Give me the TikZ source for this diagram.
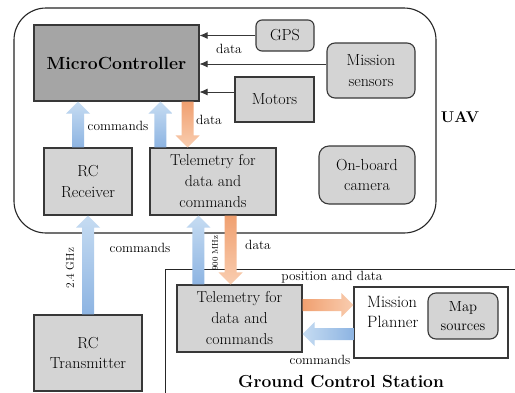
\documentclass[tikz,border=0pt]{standalone}
\usetikzlibrary{calc,arrows.meta}

\definecolor{boxgray}{HTML}{D4D4D4}
\definecolor{mcgray}{HTML}{A5A5A5}
\definecolor{edge}{HTML}{383838}
\definecolor{bluetail}{HTML}{8DB4E2}
\definecolor{bluetip}{HTML}{C6DCF2}
\definecolor{orangetail}{HTML}{F0A070}
\definecolor{orangetip}{HTML}{F9CDB0}

\tikzset{
  box/.style={draw=edge, line width=1.1pt, fill=boxgray, inner sep=2pt, align=center,
              text=black, font=\fontsize{16}{20.5}\selectfont},
  roundbox/.style={box, rounded corners=7pt},
  frame/.style={draw=black!85, line width=1.1pt, inner sep=0pt},
  lbl/.style={font=\fontsize{13.4}{16}\selectfont, inner sep=0pt},
  dataline/.style={draw=edge, line width=0.8pt, -{Latex[length=8pt,width=7pt]}},
}

% block arrows: #1 start, #2 end, #3 tail colour, #4 tip colour
\newcommand{\arrowup}[4]{%
  \shade[bottom color=#3, top color=#4] let \p1=#1, \p2=#2 in
    (\x1-6pt,\y1) -- (\x1-6pt,\y2-12pt) -- (\x1-12pt,\y2-12pt) -- (\x1,\y2)
    -- (\x1+12pt,\y2-12pt) -- (\x1+6pt,\y2-12pt) -- (\x1+6pt,\y1) -- cycle;}
\newcommand{\arrowdown}[4]{%
  \shade[top color=#3, bottom color=#4] let \p1=#1, \p2=#2 in
    (\x1-6pt,\y1) -- (\x1-6pt,\y2+12pt) -- (\x1-12pt,\y2+12pt) -- (\x1,\y2)
    -- (\x1+12pt,\y2+12pt) -- (\x1+6pt,\y2+12pt) -- (\x1+6pt,\y1) -- cycle;}
\newcommand{\arrowright}[4]{%
  \shade[left color=#3, right color=#4] let \p1=#1, \p2=#2 in
    (\x1,\y1+6pt) -- (\x2-12pt,\y1+6pt) -- (\x2-12pt,\y1+12pt) -- (\x2,\y1)
    -- (\x2-12pt,\y1-12pt) -- (\x2-12pt,\y1-6pt) -- (\x1,\y1-6pt) -- cycle;}
\newcommand{\arrowleft}[4]{%
  \shade[right color=#3, left color=#4] let \p1=#1, \p2=#2 in
    (\x1,\y1+6pt) -- (\x2+12pt,\y1+6pt) -- (\x2+12pt,\y1+12pt) -- (\x2,\y1)
    -- (\x2+12pt,\y1-12pt) -- (\x2+12pt,\y1-6pt) -- (\x1,\y1-6pt) -- cycle;}

\begin{document}
\begin{tikzpicture}[x=1pt,y=-1pt]
\useasboundingbox (0,0) rectangle (515,392);
\fill[white] (0,0) rectangle (515,392);
\clip (0,0) rectangle (515,392);

% containers
\node[frame, rounded corners=32pt, minimum width=422pt, minimum height=225pt] (uav) at (225,120.5) {};
\node[frame, line width=0.9pt, minimum width=365pt, minimum height=140pt] (gcs) at (347.5,339) {};

% UAV blocks
\node[box, fill=mcgray, minimum width=165pt, minimum height=76pt,
      font=\bfseries\fontsize{17.6}{22}\selectfont] (mc) at (116.5,63) {MicroController};
\node[roundbox, rounded corners=6pt, minimum width=58pt, minimum height=31pt] (gps) at (285,35.5) {GPS};
\node[roundbox, rounded corners=8pt, minimum width=88pt, minimum height=55pt] (ms) at (371,70.5) {Mission\\sensors};
\node[box, minimum width=79pt, minimum height=45pt] (mot) at (274.5,99.5) {Motors};
\node[box, minimum width=88pt, minimum height=67pt] (rcr) at (88,181.5) {RC\\Receiver};
\node[box, minimum width=126pt, minimum height=67pt, font=\fontsize{15.8}{21}\selectfont] (telu) at (213,181.5) {Telemetry for\\data and\\commands};
\node[roundbox, rounded corners=10pt, minimum width=96pt, minimum height=58pt] (cam) at (367,175) {On-board\\camera};

% ground blocks
\node[box, minimum width=108pt, minimum height=76pt] (rct) at (88,353) {RC\\Transmitter};
\node[box, minimum width=125pt, minimum height=67pt, font=\fontsize{15.8}{21}\selectfont] (telg) at (239.5,318.5) {Telemetry for\\data and\\commands};
\node[box, fill=white, minimum width=154pt, minimum height=71pt] (mp) at (431,322.5) {};
\node[anchor=west, align=left, inner sep=0pt, font=\fontsize{16.4}{20.5}\selectfont] (mptxt) at (367,312) {Mission\\Planner};
\node[roundbox, rounded corners=8pt, minimum width=70pt, minimum height=46pt,
      font=\fontsize{14.6}{18.5}\selectfont] (map) at (463,316) {Map\\sources};

% sensor lines into the controller
\draw[dataline] (gps.west) -- (gps.west -| mc.east);
\draw[dataline] ([yshift=6.5pt]ms.west) -- ([yshift=6.5pt]ms.west -| mc.east);
\draw[dataline] ([yshift=7.5pt]mot.west) -- ([yshift=7.5pt]mot.west -| mc.east);

% command and data links
\arrowup{(rct.north)}{(rcr.south)}{bluetail}{bluetip}
\arrowup{([xshift=-10pt]rcr.north)}{(mc.south)}{bluetail}{bluetip}
\arrowup{([xshift=11pt]telu.north west)}{(mc.south)}{bluetail}{bluetip}
\arrowdown{([xshift=-12pt]mc.south east)}{(telu.north)}{orangetail}{orangetip}
\arrowup{([xshift=22pt]telg.north west)}{(telu.south)}{bluetail}{bluetip}
\arrowdown{([xshift=-46pt]telu.south east)}{(telg.north)}{orangetail}{orangetip}
\arrowright{([yshift=13.5pt]telg.east)}{(mp.west)}{orangetail}{orangetip}
\arrowleft{([yshift=-11.5pt]mp.west)}{(telg.east)}{bluetail}{bluetip}

% labels
\node[lbl] (ldata1) at (229,49) {data};
\node[lbl] (lcmd1) at (118,126) {commands};
\node[lbl] (ldata2) at (209,120) {data};
\node[font=\bfseries\fontsize{15.6}{18}\selectfont, inner sep=0pt] (luav) at (460,117) {UAV};
\node[lbl, font=\fontsize{11.4}{14}\selectfont, rotate=90] (lghz) at (70,268) {2.4 GHz};
\node[lbl] (lcmd2) at (140,248) {commands};
\node[lbl, font=\fontsize{8.4}{10}\selectfont, rotate=90] (lmhz) at (215,253) {900 MHz};
\node[lbl] (ldata3) at (258,245) {data};
\node[lbl] (lpos) at (332,277) {position and data};
\node[lbl] (lcmd3) at (320,360) {commands};
\node[font=\bfseries\fontsize{17.4}{22}\selectfont, inner sep=0pt] (lgcs) at (341,382) {Ground Control Station};
\end{tikzpicture}
\end{document}
